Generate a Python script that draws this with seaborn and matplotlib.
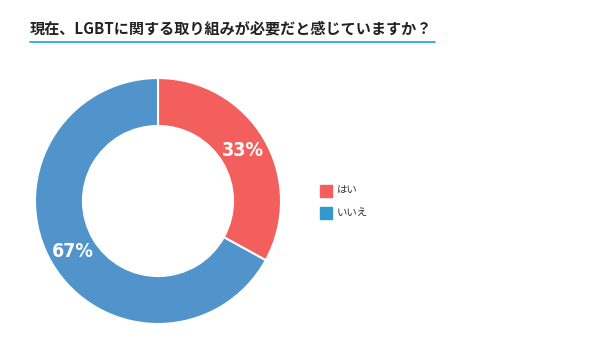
import numpy as np
import matplotlib.pyplot as plt
import matplotlib.patches as mpatches
from matplotlib.lines import Line2D
import seaborn as sns

# data
labels = ['はい', 'いいえ']
values = [33, 67]
slice_colors = ['#F25F5C', '#5094CB']
legend_colors = ['#F25F5C', '#3399CC']
title = '現在、LGBTに関する取り組みが必要だと感じていますか？'

sns.set_theme(style='white')
plt.rcParams['font.family'] = ['Noto Sans CJK JP', 'DejaVu Sans']

W, H = 598, 352
fig = plt.figure(figsize=(W / 100, H / 100), dpi=100)
fig.patch.set_facecolor('white')

# donut axes, placed in pixel units
cx, cy, r = 158, 201, 123
ax = fig.add_axes([(cx - r) / W, (H - cy - r) / H, 2 * r / W, 2 * r / H])
wedges, _ = ax.pie(values, colors=slice_colors, startangle=90, counterclock=False,
                   radius=1, wedgeprops=dict(width=0.39, edgecolor='white', linewidth=1.5))
ax.set_xlim(-1, 1)
ax.set_ylim(-1, 1)
ax.set_aspect('equal')
ax.axis('off')

# percent labels in the middle of the ring
start = 90
for v in values:
    mid = np.deg2rad(start - v * 3.6 / 2)
    start -= v * 3.6
    ax.text(0.80 * np.cos(mid), 0.80 * np.sin(mid), f'{v}%', ha='center', va='center',
            color='white', fontsize=14, fontweight='bold', family='DejaVu Sans',
            fontstretch='condensed')

# title + underline
fig.text(30 / W, 1 - 28 / H, title, ha='left', va='center', fontsize=10.9,
         fontweight='bold', color='#222222')
fig.add_artist(Line2D([30 / W, 435 / W], [1 - 42 / H, 1 - 42 / H], color='#1AA0DC',
                      linewidth=1.2, transform=fig.transFigure))

# legend
for i, (lab, col) in enumerate(zip(labels, legend_colors)):
    y = 185 + i * 22
    fig.add_artist(mpatches.Rectangle((320 / W, 1 - (y + 12) / H), 12 / W, 12 / H,
                                      color=col, transform=fig.transFigure))
    fig.text(337 / W, 1 - (y + 6) / H, lab, ha='left', va='center', fontsize=7.5,
             color='#333333')

plt.savefig('out.png', dpi=100, facecolor='white')
